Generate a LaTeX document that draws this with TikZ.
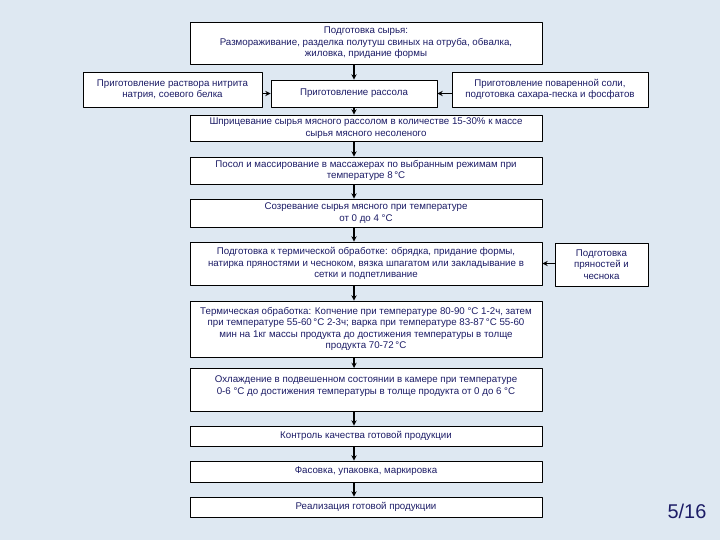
\documentclass[tikz,border=0pt]{standalone}
\usepackage{fontspec}
\setmainfont{Liberation Sans}
\definecolor{fon}{HTML}{DEE8F2}
\definecolor{tekst}{HTML}{1C1C66}
\begin{document}
\begin{tikzpicture}[x=0.03cm, y=-0.03cm, >=stealth, line join=round,
	font=\fontsize{8.3}{9.9}\selectfont,
	blok/.style={draw=black, line width=0.8pt, fill=white, text=tekst, align=center, inner sep=1pt, minimum width=352*0.03cm},
	strelka/.style={->, line width=1pt}]
	\def\xc{366} % центр колонки
	\fill[fon] (0,0) rectangle (720,540);
	\node[blok, minimum height=42*0.03cm] (syrye) at (\xc,43) {Подготовка сырья:\\Размораживание, разделка полутуш свиных на отруба, обвалка,\\жиловка, придание формы};
	\node[blok, minimum width=166*0.03cm, minimum height=27*0.03cm] (rassol) at (354,93.5) {Приготовление рассола};
	\node[blok, minimum width=179*0.03cm, minimum height=35*0.03cm] (nitrit) at (172.5,89.5) {Приготовление раствора нитрита\\натрия, соевого белка};
	\node[blok, minimum width=196*0.03cm, minimum height=35*0.03cm] (sol) at (550,89.5) {Приготовление поваренной соли,\\подготовка сахара-песка и фосфатов};
	\node[blok, minimum height=26*0.03cm] (b3) at (\xc,128) {Шприцевание сырья мясного рассолом в количестве 15-30\% к массе\\сырья мясного несоленого};
	\node[blok, minimum height=27*0.03cm] (b4) at (\xc,170.5) {Посол и массирование в массажерах по выбранным режимам при\\температуре 8\,°С};
	\node[blok, minimum height=28*0.03cm] (b5) at (\xc,213) {Созревание сырья мясного при температуре\\от 0 до 4 °С};
	\node[blok, minimum height=43*0.03cm] (b6) at (\xc,263.5) {Подготовка к термической обработке: обрядка, придание формы,\\натирка пряностями и чесноком, вязка шпагатом или закладывание в\\сетки и подпетливание};
	\node[blok, minimum width=93*0.03cm, minimum height=43*0.03cm] (pryan) at (601.5,264.5) {Подготовка\\пряностей и\\чеснока};
	\node[blok, minimum height=56*0.03cm] (b7) at (\xc,329) {Термическая обработка: Копчение при температуре 80-90 °С 1-2ч, затем\\при температуре 55-60\,°С 2-3ч; варка при температуре 83-87\,°С 55-60\\мин на 1кг массы продукта до достижения температуры в толще\\продукта 70-72\,°С};
	\node[blok, minimum height=43*0.03cm, anchor=north] (b8) at (\xc,368) {};
	\node[text=tekst, align=center, anchor=north] at (\xc,372) {Охлаждение в подвешенном состоянии в камере при температуре\\0-6 °С до достижения температуры в толще продукта от 0 до 6 °С};
	\node[blok, minimum height=20*0.03cm] (b9) at (\xc,436) {Контроль качества готовой продукции};
	\node[blok, minimum height=21*0.03cm] (b10) at (\xc,471.5) {Фасовка, упаковка, маркировка};
	\node[blok, minimum height=20*0.03cm] (b11) at (\xc,507) {Реализация готовой продукции};
	\node[text=tekst, font=\fontsize{17}{20}\selectfont] (nomer) at (687,511) {5/16};
	\draw[strelka] (syrye.south -| rassol) -- (rassol.north);
	\draw[strelka] (nitrit.east |- rassol) -- (rassol.west);
	\draw[strelka] (sol.west |- rassol) -- (rassol.east);
	\draw[strelka] (pryan.west |- b6) -- (b6.east);
	\draw[strelka] (rassol.south) -- (b3.north -| rassol);
	\foreach \a/\b in {b3/b4, b4/b5, b5/b6, b6/b7, b7/b8, b8/b9, b9/b10, b10/b11}
		\draw[strelka] (\a.south -| rassol) -- (\b.north -| rassol);
\end{tikzpicture}
\end{document}
